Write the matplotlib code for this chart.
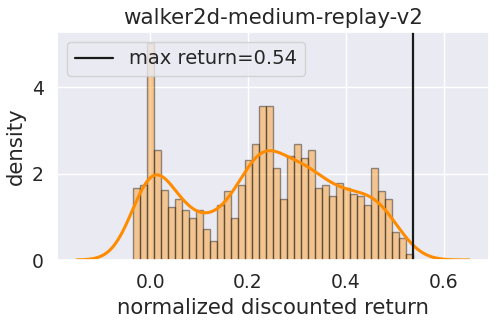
import numpy as np
import matplotlib
matplotlib.use("Agg")
import matplotlib.pyplot as plt
import seaborn as sns

title = "walker2d-medium-replay-v2"
xlabel = "normalized discounted return"
ylabel = "density"
bin_left = -0.034
bin_right = 0.536
densities = [1.67, 1.73, 5.03, 2.55, 1.61, 1.22, 1.41, 1.16, 0.97, 1.15,
             0.71, 0.45, 1.28, 1.60, 0.97, 1.73, 2.31, 2.69, 3.57, 3.57,
             2.12, 1.42, 2.42, 2.68, 2.37, 2.55, 1.67, 1.73, 1.48, 1.79,
             1.67, 1.54, 1.48, 1.28, 2.12, 1.60, 1.42, 0.65, 0.51, 0.15]
max_return = 0.537
kde_bw = 0.0387
xticks = [0.0, 0.2, 0.4, 0.6]
yticks = [0, 2, 4]

sns.set_theme(style="darkgrid")
plt.rcParams['font.family'] = ['DejaVu Sans']
plt.rcParams['xtick.labelsize'] = 13.5
plt.rcParams['ytick.labelsize'] = 13.5
plt.rcParams['legend.fontsize'] = 14
plt.rcParams['axes.labelsize'] = 15.3
plt.rcParams['axes.titlesize'] = 15.4

fig = plt.figure(figsize=(4.99, 3.23), dpi=100)
ax = fig.add_axes([57/499, 1-260/323, (489-57)/499, (260-32)/323])

dens = np.array(densities)
edges = np.linspace(bin_left, bin_right, len(dens) + 1)
widths = np.diff(edges)
centers = (edges[:-1] + edges[1:]) / 2
ax.bar(edges[:-1], dens, width=widths, align='edge', color='darkorange',
       alpha=0.4, edgecolor='black', linewidth=1)

# KDE computed from the histogram (weighted by bin mass)
w = dens * widths
w = w / w.sum()
xs = np.linspace(bin_left - 3 * kde_bw, bin_right + 3 * kde_bw, 400)
ys = (w[None, :] * np.exp(-0.5 * ((xs[:, None] - centers[None, :]) / kde_bw) ** 2)).sum(axis=1) / (kde_bw * np.sqrt(2 * np.pi))
ax.plot(xs, ys, color='darkorange', linewidth=2.2)

ax.axvline(max_return, color='k', linewidth=1.6, label=f"max return={max_return:.2f}")
ax.legend(loc='upper left')
ax.set_xticks(xticks)
ax.set_yticks(yticks)
ax.set_ylim(0, dens.max() * 1.05)
ax.set_title(title)
ax.set_xlabel(xlabel)
ax.set_ylabel(ylabel)

fig.savefig("out.png", dpi=100)
